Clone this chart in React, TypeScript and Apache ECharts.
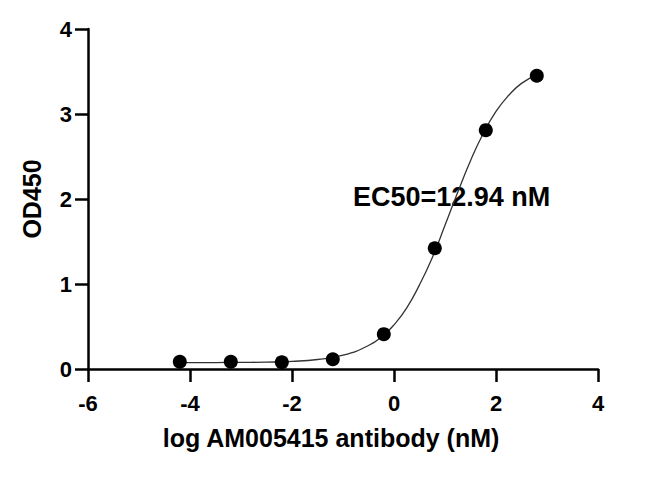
import React, { useEffect, useRef } from "react";
import * as echarts from "echarts";

// Measured points: log concentration (nM) vs OD450
const logConc = [-4.2, -3.2, -2.2, -1.2, -0.2, 0.8, 1.8, 2.8];
const od450 = [0.085, 0.085, 0.08, 0.115, 0.41, 1.42, 2.81, 3.45];

// Fitted curve
const curveX = [-4.2, -3.5, -3, -2.5, -2, -1.5, -1, -0.5, -0.2, 0, 0.25, 0.5, 0.75, 1, 1.25, 1.5, 1.75, 2, 2.25, 2.5, 2.8];
const curveY = [0.075, 0.076, 0.078, 0.081, 0.09, 0.112, 0.162, 0.276, 0.40, 0.52, 0.72, 0.99, 1.31, 1.69, 2.08, 2.45, 2.77, 3.03, 3.22, 3.36, 3.46];

const xTicks = { min: -6, max: 4, interval: 2 };
const yTicks = { min: 0, max: 4, interval: 1 };

const xTitle = "log AM005415 antibody (nM)";
const yTitle = "OD450";
const ec50Label = "EC50=12.94 nM";

const FONT = "'Liberation Sans', Arial, Helvetica, sans-serif";

export default function App() {
  const ref = useRef<HTMLDivElement>(null);
  useEffect(() => {
    if (!ref.current) return;
    const chart = echarts.init(ref.current, null, { renderer: "svg" });
    const axisCommon = {
      axisLine: { show: true, onZero: false, lineStyle: { color: "#000", width: 2.5 } },
      axisTick: { show: true, inside: false, length: 13, lineStyle: { color: "#000", width: 2.5 } },
      splitLine: { show: false },
    };
    chart.setOption({
      animation: false,
      backgroundColor: "#fff",
      grid: { left: 88, right: 52, top: 29, bottom: 108, containLabel: false },
      xAxis: {
        type: "value",
        ...xTicks,
        ...axisCommon,
        axisLabel: { color: "#000", fontSize: 22, fontWeight: "bold", fontFamily: FONT, margin: 23 },
        name: xTitle,
        nameLocation: "middle",
        nameGap: 56,
        nameTextStyle: { color: "#000", fontSize: 25, fontWeight: "bold", fontFamily: FONT, padding: [0, 24, 0, 0] },
      },
      yAxis: {
        type: "value",
        ...yTicks,
        ...axisCommon,
        axisLabel: { color: "#000", fontSize: 22, fontWeight: "bold", fontFamily: FONT, margin: 16 },
        name: yTitle,
        nameLocation: "middle",
        nameGap: 44,
        nameTextStyle: { color: "#000", fontSize: 25, fontWeight: "bold", fontFamily: FONT },
      },
      series: [
        {
          type: "line",
          data: curveX.map((x, i) => [x, curveY[i]]),
          smooth: true,
          showSymbol: false,
          symbol: "none",
          lineStyle: { color: "#333", width: 1.3 },
          z: 2,
        },
        {
          type: "scatter",
          data: logConc.map((x, i) => [x, od450[i]]),
          symbol: "circle",
          symbolSize: 14,
          itemStyle: { color: "#000", opacity: 1 },
          z: 3,
        },
      ],
      graphic: [
        {
          type: "text",
          left: 353,
          top: 183,
          style: { text: ec50Label, fill: "#000", font: `bold 27px ${FONT}` },
        },
      ],
    });
    return () => chart.dispose();
  }, []);
  return <div ref={ref} style={{ position: "fixed", left: 0, top: 0, width: 650, height: 477 }} />;
}
